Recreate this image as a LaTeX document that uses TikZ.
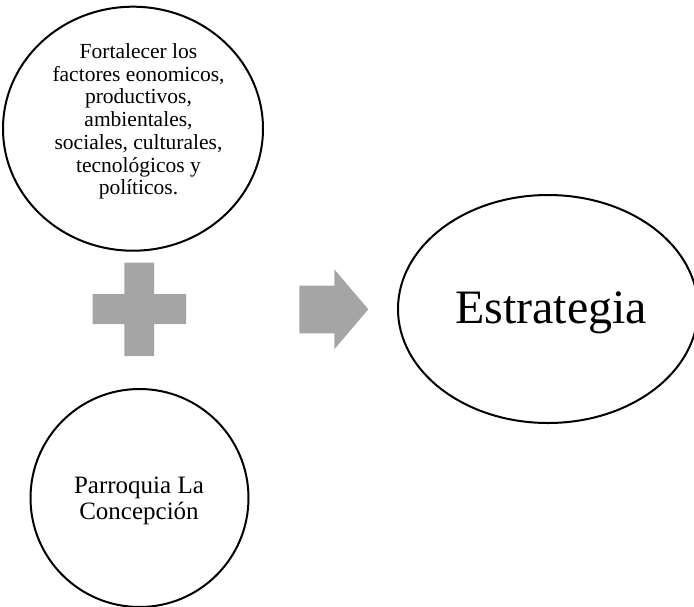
\documentclass[tikz,border=0pt]{standalone}
\usepackage{fontspec}
\setmainfont{Liberation Serif}
\usetikzlibrary{shapes.geometric}
\definecolor{shapegrey}{HTML}{A5A5A5}
\tikzset{
  oval/.style={draw=black, line width=2pt, shape=ellipse, inner sep=0pt, outer sep=0pt},
  txt/.style={align=center, inner sep=0pt, text=black},
  greyshape/.style={fill=shapegrey, draw=none}
}
\begin{document}
\begin{tikzpicture}[x=1pt, y=-1pt]
\useasboundingbox (0,0) rectangle (694,606);
\clip (0,0) rectangle (694,606);
% ellipses
\node[oval, minimum width=260pt, minimum height=244pt] (top) at (133,128.7) {};
\node[oval, minimum width=300pt, minimum height=228pt] (strat) at (548,309) {};
\node[oval, minimum width=218pt, minimum height=218pt] (parr) at (139.5,498) {};
% texts
\node[txt, font=\fontsize{21.5}{22.7}\selectfont] (toptext) at (138.5,121.5)
  {Fortalecer los\\factores eonomicos,\\productivos,\\ambientales,\\sociales, culturales,\\tecnológicos y\\políticos.};
\node[txt, font=\fontsize{48}{52}\selectfont] (strattext) at (551,312.6) {Estrategia};
\node[txt, font=\fontsize{25}{26.7}\selectfont] (parrtext) at (139,501) {Parroquia La\\Concepción};
% plus sign
\fill[greyshape] (124.3,262.7) -- (154,262.7) -- (154,294) -- (186,294) -- (186,324)
  -- (154,324) -- (154,356) -- (124.3,356) -- (124.3,324) -- (92.7,324)
  -- (92.7,294) -- (124.3,294) -- cycle;
% block arrow
\fill[greyshape] (299.3,285.7) -- (334.3,285.7) -- (334.3,269.3) -- (368.3,309.3)
  -- (334.3,349.3) -- (334.3,333.3) -- (299.3,333.3) -- cycle;
\end{tikzpicture}
\end{document}
